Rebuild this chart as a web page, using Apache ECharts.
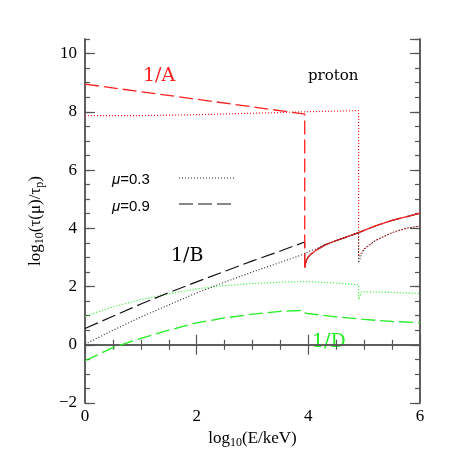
<!DOCTYPE html>
<html>
<head>
<meta charset="utf-8">
<script src="https://cdn.jsdelivr.net/npm/echarts@6/dist/echarts.min.js"></script>
<style>
  html, body { margin: 0; padding: 0; background: #fff; }
  #chart { width: 458px; height: 458px; }
</style>
</head>
<body>
<div id="chart"></div>
<script>
// x = log10(E/keV), y = log10(tau(mu)/tau_p)
const xTicks = [0, 2, 4, 6];
const yTicks = [-2, 0, 2, 4, 6, 8, 10];

// 1/A (red)
const aMu09 = [[0, 8.95], [1, 8.69], [2, 8.43], [3, 8.17], [3.935, 7.92], [3.935, 2.64]];
const aMu09Tail = [[3.935, 2.64], [3.95, 2.8], [3.97, 2.92], [4.0, 3.02], [4.05, 3.12], [4.15, 3.26],
  [4.3, 3.43], [4.5, 3.58], [4.7, 3.71], [4.9, 3.85], [5.2, 4.08], [5.5, 4.27], [5.8, 4.42], [6, 4.52]];
const aMu03 = [[0, 7.87], [1, 7.87], [2, 7.9], [3, 7.95], [3.935, 8.0], [4.9, 8.04], [4.9, 3.03],
  [4.95, 3.15], [5.0, 3.3], [5.2, 3.58], [5.5, 3.85], [5.75, 4.0], [6, 4.08]];

// 1/B (black)
const bMu09 = [[0, 0.56], [0.5, 0.98], [1, 1.4], [1.5, 1.79], [2, 2.16], [2.5, 2.52], [3, 2.88],
  [3.5, 3.22], [3.935, 3.53], [3.935, 2.64], [3.95, 2.8], [3.97, 2.92], [4.0, 3.02], [4.05, 3.12],
  [4.15, 3.26], [4.3, 3.43], [4.5, 3.58], [4.7, 3.71], [4.9, 3.85], [5.2, 4.08], [5.5, 4.27],
  [5.8, 4.42], [6, 4.52]];
const bMu03 = [[0, 0.02], [0.5, 0.5], [1, 0.95], [1.5, 1.37], [2, 1.78], [2.5, 2.15], [3, 2.5],
  [3.5, 2.83], [3.935, 3.12], [4.0, 3.2], [4.15, 3.3], [4.3, 3.43], [4.5, 3.58], [4.7, 3.71],
  [4.9, 3.85], [4.9, 2.81], [4.95, 3.1], [5.0, 3.28], [5.2, 3.58], [5.5, 3.85], [5.75, 4.0], [6, 4.08]];

// 1/D (green)
const dMu09 = [[0, -0.55], [0.5, -0.1], [1, 0.22], [1.5, 0.5], [2, 0.75], [2.5, 0.92], [3, 1.05],
  [3.5, 1.15], [3.9, 1.18], [3.935, 1.18], [3.96, 1.08], [4.5, 0.96], [5, 0.87], [5.5, 0.8], [6, 0.76]];
const dMu03 = [[0, 0.98], [0.5, 1.3], [1, 1.55], [1.5, 1.75], [2, 1.92], [2.5, 2.03], [3, 2.1],
  [3.5, 2.15], [3.935, 2.17], [4.5, 2.12], [4.9, 2.06], [4.9, 1.55], [4.95, 1.82], [5.5, 1.8], [6, 1.76]];

const RED = '#ff2020';
const GREEN = '#22ee22';
const AXIS = '#555';
const SERIF = '"Liberation Serif", "DejaVu Serif", serif';
const WSERIF = '"DejaVu Serif", serif';
const SANS = '"Liberation Sans", Arial, sans-serif';
const DASH = [14, 5];
const DOT = [1, 2];

function line(data, color, type, width) {
  return {
    type: 'line', data: data, showSymbol: false, silent: true,
    animation: false, clip: true,
    lineStyle: { color: color, type: type, width: width || 1.2 }
  };
}

function minus(v) { return String(v).replace('-', '\u2212'); }

const baseY = { type: 'value', min: -2, max: 10.5, splitLine: { show: false },
  axisLine: { show: true, lineStyle: { color: AXIS, width: 1.5 } } };

const titleRich = {
  t: { fontFamily: SERIF, fontSize: 17, color: '#000' },
  s: { fontFamily: SERIF, fontSize: 12, color: '#000', verticalAlign: 'bottom', padding: [9, 0, 0, 0] }
};

const option = {
  backgroundColor: '#fff',
  grid: { left: 85, right: 38, top: 39, bottom: 55 },
  xAxis: [
    {
      type: 'value', min: 0, max: 6, interval: 2, position: 'bottom',
      splitLine: { show: false },
      axisLine: { show: true, lineStyle: { color: AXIS, width: 1.5 } },
      axisTick: { inside: true, length: 10, lineStyle: { color: AXIS, width: 1.2 } },
      minorTick: { show: true, splitNumber: 4, length: 5, lineStyle: { color: AXIS, width: 1.2 } },
      axisLabel: { color: '#000', fontFamily: SERIF, fontSize: 17, margin: 5, formatter: minus },
      name: '{t|log}{s|10}{t|(E/keV)}', nameLocation: 'middle', nameGap: 25,
      nameTextStyle: { rich: titleRich }
    },
    {
      type: 'value', min: 0, max: 6, interval: 2, position: 'top',
      splitLine: { show: false },
      axisLine: { show: true, lineStyle: { color: AXIS, width: 1.5 } },
      axisTick: { inside: true, length: 10, lineStyle: { color: AXIS, width: 1.2 } },
      minorTick: { show: true, splitNumber: 4, length: 5, lineStyle: { color: AXIS, width: 1.2 } },
      axisLabel: { show: false }
    }
  ],
  yAxis: [
    Object.assign({}, baseY, {
      position: 'left', interval: 2,
      axisTick: { inside: true, length: 10, lineStyle: { color: AXIS, width: 1.2 } },
      axisLabel: { color: '#000', fontFamily: SERIF, fontSize: 17, margin: 8, showMaxLabel: false,
        formatter: function (v) { return yTicks.indexOf(v) >= 0 ? minus(v) : ''; } },
      name: '{t|log}{s|10}{t|(\u03c4(\u03bc)/\u03c4}{s|p}{t|)}', nameLocation: 'middle', nameGap: 39,
      nameRotate: 90,
      nameTextStyle: { rich: titleRich }
    }),
    Object.assign({}, baseY, {
      position: 'left', interval: 0.5,
      axisTick: { inside: true, length: 5, lineStyle: { color: AXIS, width: 1.2 } },
      axisLabel: { show: false }
    }),
    Object.assign({}, baseY, {
      position: 'right', interval: 2,
      axisTick: { inside: true, length: 10, lineStyle: { color: AXIS, width: 1.2 } },
      axisLabel: { show: false }
    }),
    Object.assign({}, baseY, {
      position: 'right', interval: 0.5,
      axisTick: { inside: true, length: 5, lineStyle: { color: AXIS, width: 1.2 } },
      axisLabel: { show: false }
    })
  ],
  series: [
    line(dMu03, GREEN, DOT, 1.2),
    line(dMu09, GREEN, DASH, 1.3),
    line(aMu03, RED, DOT, 1.2),
    line(bMu09, '#111', DASH, 1.2),
    line(aMu09Tail, RED, 'solid', 1.3),
    line(bMu03, '#222', DOT, 1.1),
    line(aMu09, RED, DASH, 1.3)
  ],
  graphic: [
    { type: 'text', left: 143, top: 67, style: { text: '1/A', fill: RED, font: '19px ' + WSERIF } },
    { type: 'text', left: 308, top: 69, style: { text: 'proton', fill: '#000', font: '15px ' + WSERIF } },
    { type: 'text', left: 171, top: 247, style: { text: '1/B', fill: '#000', font: '19px ' + WSERIF } },
    { type: 'text', left: 312, top: 333, style: { text: '1/D', fill: GREEN, font: '19px ' + WSERIF } },
    { type: 'text', left: 112, top: 172, style: { text: '{i|\u03bc}=0.3',
      rich: { i: { fontStyle: 'italic', fontFamily: SANS, fontSize: 15, fill: '#000' } },
      font: '15px ' + SANS, fill: '#000' } },
    { type: 'text', left: 112, top: 199, style: { text: '{i|\u03bc}=0.9',
      rich: { i: { fontStyle: 'italic', fontFamily: SANS, fontSize: 15, fill: '#000' } },
      font: '15px ' + SANS, fill: '#000' } },
    { type: 'line', shape: { x1: 179, y1: 178, x2: 236, y2: 178 },
      style: { stroke: '#222', lineWidth: 1.1, lineDash: DOT } },
    { type: 'line', shape: { x1: 179, y1: 204, x2: 236, y2: 204 },
      style: { stroke: '#111', lineWidth: 1.2, lineDash: DASH } }
  ]
};

const chart = echarts.init(document.getElementById('chart'), null, { renderer: 'canvas' });
chart.setOption(option);
</script>
</body>
</html>
